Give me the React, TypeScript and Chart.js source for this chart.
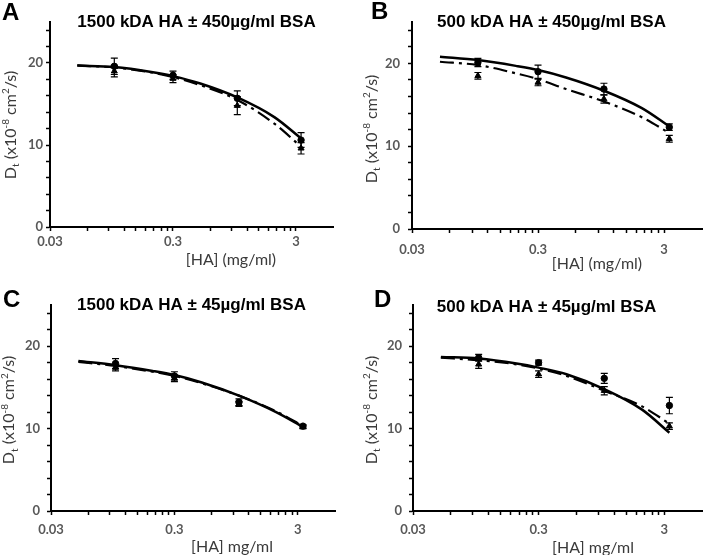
import { useEffect, useRef } from 'react';
import { Chart, registerables } from 'chart.js';
Chart.register(...registerables);

// ---------- data ----------
const pointX = [0.1, 0.3, 1, 3.3];
const curveX = [0.05, 0.1, 0.2, 0.3, 0.5, 1, 2, 3.3];

const xTickValues = [0.03, 0.06, 0.09, 0.12, 0.15, 0.18, 0.21, 0.24, 0.27, 0.3, 0.6, 0.9, 1.2, 1.5, 1.8, 2.1, 2.4, 2.7, 3];
const xTickLabels = ['0.03', '0.3', '3'];
const yTickValues = [0, 2, 4, 6, 8, 10, 12, 14, 16, 18, 20, 22, 24];
const yTickLabels = ['0', '10', '20'];

const panelLetters = ['A', 'B', 'C', 'D'];
const panelTitles = [
  '1500 kDA HA ± 450µg/ml BSA',
  '500 kDA HA ± 450µg/ml BSA',
  '1500 kDA HA ± 45µg/ml BSA',
  '500 kDA HA ± 45µg/ml BSA',
];
const xTitles = ['[HA] (mg/ml)', '[HA] (mg/ml)', '[HA] mg/ml', '[HA] mg/ml'];

// Panel A
const circleA = [19.6, 18.5, 15.7, 10.6];
const circleErrA = [1.0, 0.5, 0.9, 0.9];
const triangleA = [19.0, 18.1, 14.8, 9.6];
const triangleErrA = [0.7, 0.5, 1.1, 0.7];
const solidA = [19.7, 19.5, 18.9, 18.4, 17.5, 15.8, 13.4, 10.8];
const dashA = [19.7, 19.45, 18.85, 18.3, 17.3, 15.5, 12.6, 9.8];

// Panel B
const circleB = [20.1, 19.0, 16.9, 12.3];
const circleErrB = [0.5, 0.8, 0.7, 0.4];
const triangleB = [18.5, 17.7, 15.7, 10.9];
const triangleErrB = [0.4, 0.4, 0.5, 0.4];
const solidB = [20.8, 20.4, 19.7, 19.2, 18.3, 16.7, 14.6, 12.4];
const dashB = [20.2, 19.8, 18.8, 18.1, 16.9, 15.4, 13.5, 11.6];

// Panel C
const circleC = [17.9, 16.4, 13.2, 10.3];
const circleErrC = [0.6, 0.5, 0.4, 0.2];
const triangleC = [17.4, 16.1, 13.0, 10.2];
const triangleErrC = [0.4, 0.4, 0.3, 0.2];
const solidC = [18.2, 17.7, 17.0, 16.5, 15.6, 14.0, 12.0, 10.2];
const dashC = [18.1, 17.6, 16.9, 16.4, 15.5, 14.0, 12.1, 10.3];

// Panel D
const circleD = [18.6, 18.0, 16.1, 12.8];
const circleErrD = [0.4, 0.3, 0.6, 1.0];
const triangleD = [17.8, 16.6, 14.6, 10.3];
const triangleErrD = [0.5, 0.4, 0.5, 0.4];
const solidD = [18.7, 18.5, 17.9, 17.4, 16.6, 14.8, 12.3, 9.5];
const dashD = [18.6, 18.3, 17.8, 17.3, 16.4, 14.6, 12.7, 10.6];

const panelData = [
  { circle: circleA, circleErr: circleErrA, triangle: triangleA, triangleErr: triangleErrA, solid: solidA, dash: dashA },
  { circle: circleB, circleErr: circleErrB, triangle: triangleB, triangleErr: triangleErrB, solid: solidB, dash: dashB },
  { circle: circleC, circleErr: circleErrC, triangle: triangleC, triangleErr: triangleErrC, solid: solidC, dash: dashC },
  { circle: circleD, circleErr: circleErrD, triangle: triangleD, triangleErr: triangleErrD, solid: solidD, dash: dashD },
];

// ---------- layout (local canvas coords) ----------
const layouts = [
  { left: 0, top: 0, w: 354, h: 277, area: { l: 50, r: 333, t: 22, b: 227 }, yPad: 3, xPad: 3,
    letter: { x: 2, y: 20 }, title: { x: 196.5, y: 27 }, xTitle: { x: 231, y: 259.5 }, yTitle: { x: 10, y: 125 } },
  { left: 354, top: 0, w: 355, h: 277, area: { l: 58, r: 348, t: 22, b: 229 }, yPad: 8, xPad: 9,
    letter: { x: 17, y: 19 }, title: { x: 197.5, y: 27 }, xTitle: { x: 243, y: 264 }, yTitle: { x: 17, y: 129 } },
  { left: 0, top: 277, w: 354, h: 278, area: { l: 51, r: 335, t: 28, b: 234 }, yPad: 7, xPad: 7,
    letter: { x: 3, y: 30 }, title: { x: 191.5, y: 33 }, xTitle: { x: 232, y: 270 }, yTitle: { x: 8.5, y: 133 } },
  { left: 354, top: 277, w: 355, h: 278, area: { l: 59, r: 348, t: 28, b: 234 }, yPad: 7, xPad: 7,
    letter: { x: 20, y: 30 }, title: { x: 192.5, y: 35 }, xTitle: { x: 239, y: 270.5 }, yTitle: { x: 17, y: 133 } },
];

const near = (a: number, b: number) => Math.abs(a - b) < 1e-6 * Math.max(1, Math.abs(b));

function makeConfig(idx: number): any {
  const d = panelData[idx];
  const L = layouts[idx];
  const toPts = (xs: number[], ys: number[]) => ys.map((y, i) => ({ x: xs[i], y }));

  const errorPlugin = {
    id: 'errorBars',
    beforeDatasetsDraw(chart: any) {
      const { ctx } = chart;
      const xs = chart.scales.x;
      const ys = chart.scales.y;
      ctx.save();
      ctx.strokeStyle = '#000';
      ctx.lineWidth = 1.2;
      const sets = [
        { v: d.circle, e: d.circleErr },
        { v: d.triangle, e: d.triangleErr },
      ];
      for (const s of sets) {
        s.v.forEach((v: number, i: number) => {
          const px = xs.getPixelForValue(pointX[i]);
          const t = ys.getPixelForValue(v + s.e[i]);
          const b = ys.getPixelForValue(v - s.e[i]);
          ctx.beginPath();
          ctx.moveTo(px, t); ctx.lineTo(px, b);
          ctx.moveTo(px - 3.5, t); ctx.lineTo(px + 3.5, t);
          ctx.moveTo(px - 3.5, b); ctx.lineTo(px + 3.5, b);
          ctx.stroke();
        });
      }
      ctx.restore();
    },
  };

  const textPlugin = {
    id: 'panelText',
    afterDraw(chart: any) {
      const ctx = chart.ctx;
      ctx.save();
      ctx.fillStyle = '#000';
      ctx.textAlign = 'left';
      ctx.textBaseline = 'alphabetic';
      ctx.font = 'bold 24px "Liberation Sans", Arial, sans-serif';
      ctx.fillText(panelLetters[idx], L.letter.x, L.letter.y);
      ctx.textAlign = 'center';
      ctx.font = 'bold 17px "Liberation Sans", Arial, sans-serif';
      ctx.fillText(panelTitles[idx], L.title.x, L.title.y);
      ctx.fillStyle = '#3a3a3a';
      ctx.textBaseline = 'middle';
      ctx.font = '16px Lato, sans-serif';
      ctx.fillText(xTitles[idx], L.xTitle.x, L.xTitle.y);

      // rotated y title with sub/superscripts
      const segs = [
        { t: 'D', k: 'n' }, { t: 't', k: 'sub' }, { t: ' (x10', k: 'n' }, { t: '-8', k: 'sup' },
        { t: ' cm', k: 'n' }, { t: '2', k: 'sup' }, { t: '/s)', k: 'n' },
      ];
      const base = 16, small = 10;
      const fontOf = (k: string) => (k === 'n' ? `${base}px Lato, sans-serif` : `${small}px Lato, sans-serif`);
      ctx.translate(L.yTitle.x, L.yTitle.y);
      ctx.rotate(-Math.PI / 2);
      ctx.textAlign = 'left';
      ctx.textBaseline = 'alphabetic';
      let total = 0;
      for (const s of segs) { ctx.font = fontOf(s.k); total += ctx.measureText(s.t).width; }
      let x = -total / 2;
      const by = base * 0.36;
      for (const s of segs) {
        ctx.font = fontOf(s.k);
        const dy = s.k === 'sub' ? base * 0.22 : s.k === 'sup' ? -base * 0.42 : 0;
        ctx.fillText(s.t, x, by + dy);
        x += ctx.measureText(s.t).width;
      }
      ctx.restore();
    },
  };

  const tickFont = { family: 'Lato, sans-serif', weight: 'bold' as const, size: 13 };

  return {
    type: 'line',
    data: {
      datasets: [
        { data: toPts(curveX, d.solid), borderColor: '#000', borderWidth: 2.5, pointRadius: 0, cubicInterpolationMode: 'monotone', fill: false },
        { data: toPts(curveX, d.dash), borderColor: '#000', borderWidth: 2.2, borderDash: [14, 5, 3, 5], pointRadius: 0, cubicInterpolationMode: 'monotone', fill: false },
        { data: toPts(pointX, d.circle), showLine: false, pointStyle: 'circle', pointRadius: 3.2, backgroundColor: '#000', borderColor: '#000' },
        { data: toPts(pointX, d.triangle), showLine: false, pointStyle: 'triangle', pointRadius: 3.5, backgroundColor: '#000', borderColor: '#000' },
      ],
    },
    options: {
      animation: false,
      responsive: false,
      maintainAspectRatio: false,
      devicePixelRatio: 1,
      layout: { padding: { left: 0, top: L.area.t, right: L.w - L.area.r, bottom: 0 } },
      plugins: { legend: { display: false }, tooltip: { enabled: false }, title: { display: false } },
      scales: {
        x: {
          type: 'logarithmic',
          min: 0.03,
          max: 6,
          afterBuildTicks: (s: any) => { s.ticks = xTickValues.map((v) => ({ value: v })); },
          afterFit: (s: any) => { s.height = L.h - L.area.b; },
          ticks: {
            autoSkip: false, maxRotation: 0, minRotation: 0, padding: L.xPad, color: '#595959', font: tickFont,
            callback: (v: any) => { const lab = xTickLabels.find((t) => near(Number(t), Number(v))); return lab ?? ''; },
          },
          grid: { drawOnChartArea: false, drawTicks: true, tickLength: 4, tickColor: '#000', tickWidth: 1.5 },
          border: { display: true, color: '#000', width: 2 },
        },
        y: {
          type: 'linear',
          min: 0,
          max: 25,
          afterBuildTicks: (s: any) => { s.ticks = yTickValues.map((v) => ({ value: v })); },
          afterFit: (s: any) => { s.width = L.area.l; },
          ticks: {
            autoSkip: false, padding: L.yPad, color: '#595959', font: tickFont,
            callback: (v: any) => { const lab = yTickLabels.find((t) => near(Number(t), Number(v))); return lab ?? ''; },
          },
          grid: { drawOnChartArea: false, drawTicks: true, tickLength: 4, tickColor: '#000', tickWidth: 1.5 },
          border: { display: true, color: '#000', width: 2 },
        },
      },
    },
    plugins: [errorPlugin, textPlugin],
  };
}

function Panel({ idx }: { idx: number }) {
  const ref = useRef<HTMLCanvasElement>(null);
  const L = layouts[idx];
  useEffect(() => {
    if (!ref.current) return;
    const chart = new Chart(ref.current, makeConfig(idx));
    return () => chart.destroy();
  }, [idx]);
  return (
    <canvas
      ref={ref}
      width={L.w}
      height={L.h}
      style={{ position: 'absolute', left: L.left, top: L.top, width: L.w, height: L.h }}
    />
  );
}

export default function App() {
  return (
    <div style={{ position: 'absolute', left: 0, top: 0, width: 709, height: 555, background: '#fff', overflow: 'hidden' }}>
      {[0, 1, 2, 3].map((i) => (
        <Panel key={i} idx={i} />
      ))}
    </div>
  );
}
